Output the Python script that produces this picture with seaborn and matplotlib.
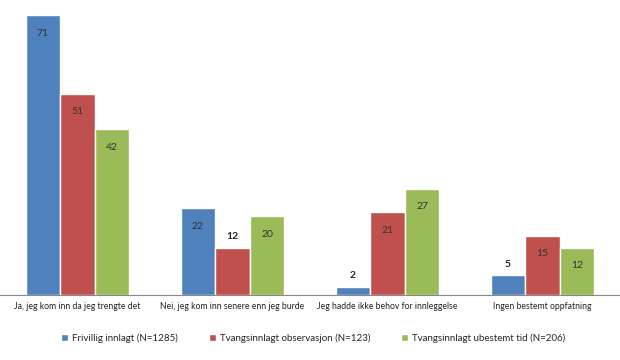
import seaborn as sns
import matplotlib.pyplot as plt
import pandas as pd

sns.set_style("white")
plt.rcParams['font.family'] = ['Lato', 'DejaVu Sans']

kategorier = ["Ja, jeg kom inn da jeg trengte det",
              "Nei, jeg kom inn senere enn jeg burde",
              "Jeg hadde ikke behov for innleggelse",
              "Ingen bestemt oppfatning"]
grupper = ["Frivillig innlagt (N=1285)",
           "Tvangsinnlagt observasjon (N=123)",
           "Tvangsinnlagt ubestemt tid (N=206)"]
frivillig = [71, 22, 2, 5]
observasjon = [51, 12, 21, 15]
ubestemt = [42, 20, 27, 12]

# etiketter som står over stolpen (fet) i stedet for inne i den: (gruppe, kategori)
utenfor = {(0, 2), (0, 3), (1, 1)}

df = pd.DataFrame({
    "Kategori": kategorier * 3,
    "Gruppe": [g for g in grupper for _ in kategorier],
    "Verdi": frivillig + observasjon + ubestemt,
})

colors = ["#4F81BD", "#C0504D", "#9BBB59"]

fig = plt.figure(figsize=(6.2, 3.6), dpi=100)
ax = fig.add_axes([0.0, 0.1806, 1.0, 0.7777])
sns.barplot(data=df, x="Kategori", y="Verdi", hue="Gruppe", palette=colors,
            saturation=1, width=0.67, ax=ax)

for gi, cont in enumerate(ax.containers):
    for ki, bar in enumerate(cont):
        v = bar.get_height()
        x = bar.get_x() + bar.get_width() / 2
        if (gi, ki) in utenfor:
            ax.annotate(f"{v:g}", (x, v), xytext=(0, 8), textcoords="offset points",
                        ha="center", va="center", fontsize=7.5, fontweight="bold",
                        color="#222222")
        else:
            ax.annotate(f"{v:g}", (x, v), xytext=(0, -13), textcoords="offset points",
                        ha="center", va="center", fontsize=7.5, color="#333333")

ax.set_ylim(0, 71)
ax.set_xlim(-0.5, 3.5)
ax.set_xlabel("")
ax.set_ylabel("")
ax.set_yticks([])
ax.tick_params(axis="x", which="major", length=0, labelsize=6.2, pad=5,
               colors="#222222")
ax.set_xticks([0.5, 1.5, 2.5], minor=True)
ax.tick_params(axis="x", which="minor", length=4, color="#888888")
for s in ["top", "left", "right"]:
    ax.spines[s].set_visible(False)
ax.spines["bottom"].set_color("#888888")
ax.spines["bottom"].set_linewidth(0.8)

ax.legend(loc="center", bbox_to_anchor=(0.505, -0.155), ncol=3, frameon=False,
          fontsize=7, handlelength=0.7, handleheight=0.7, handletextpad=0.4,
          columnspacing=3.2)

fig.savefig("out.png", dpi=100)
